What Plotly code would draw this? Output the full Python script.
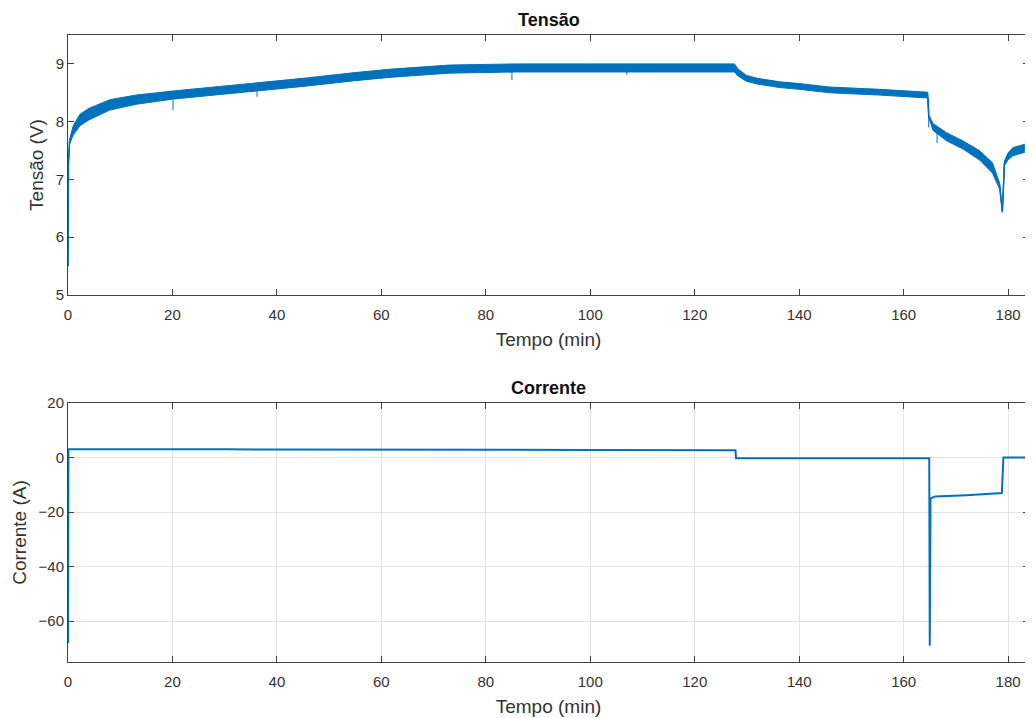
import plotly.graph_objects as go

# ---------------- data ----------------
# Voltage band (noisy signal drawn as envelope) : time (min), centre and half-spread (V)
t_v = [0.0, 0.05, 0.1, 0.3, 1.0, 2.3, 4.0, 8.0, 13.0, 20.0, 28.0, 36.0, 45.0, 55.0,
       62.0, 73.0, 86.0, 100.0, 112.0, 127.6, 128.3, 129.9, 132.0, 136.3, 140.0,
       145.8, 155.4, 164.6, 164.8, 165.6, 168.2, 171.3, 174.5, 177.0, 178.4, 178.9,
       179.3, 180.0, 180.9, 183.2]
v_mid = [5.50, 6.80, 7.30, 7.65, 7.85, 8.03, 8.13, 8.29, 8.38, 8.46, 8.53, 8.60, 8.68, 8.78,
         8.84, 8.91, 8.93, 8.93, 8.93, 8.93, 8.85, 8.75, 8.70, 8.64, 8.61,
         8.55, 8.51, 8.46, 8.10, 7.91, 7.74, 7.60, 7.42, 7.20, 6.88, 6.44,
         7.28, 7.40, 7.48, 7.54]
v_spread = [0.00, 0.00, 0.01, 0.04, 0.08, 0.10, 0.10, 0.09, 0.08, 0.07, 0.07, 0.07, 0.07, 0.07,
            0.07, 0.07, 0.07, 0.07, 0.07, 0.07, 0.06, 0.05, 0.05, 0.05, 0.05,
            0.05, 0.05, 0.05, 0.02, 0.06, 0.07, 0.07, 0.08, 0.09, 0.05, 0.01,
            0.04, 0.06, 0.07, 0.07]
v_upper = [m + s for m, s in zip(v_mid, v_spread)]
v_lower = [m - s for m, s in zip(v_mid, v_spread)]

# isolated downward spikes in voltage: time, top, bottom
spike_t = [20.1, 36.2, 85.0, 107.0, 164.8, 166.4]
spike_top = [8.45, 8.58, 8.90, 8.92, 8.40, 7.85]
spike_bot = [8.20, 8.43, 8.72, 8.81, 7.90, 7.63]

# Current (A)
t_i = [0.0, 0.02, 0.08, 30.0, 60.0, 100.0, 127.8, 127.9, 164.9, 165.0, 165.15, 166.0,
       172.0, 178.8, 179.1, 183.3]
i_val = [0.0, -68.0, 3.0, 3.0, 2.8, 2.8, 2.7, -0.3, -0.3, -69.0, -15.0, -14.3,
         -13.8, -13.0, 0.0, 0.0]

x_ticks = [0, 20, 40, 60, 80, 100, 120, 140, 160, 180]
v_ticks = [5, 6, 7, 8, 9]
i_ticks = [-60, -40, -20, 0, 20]

# ---------------- figure ----------------
BLUE = "#0072BD"
AX = "#404040"
TXT = "#333333"
FONT = "Liberation Sans"

fig = go.Figure()

fig.add_trace(go.Scatter(x=t_v, y=v_lower, mode="lines", line=dict(color=BLUE, width=1),
                         xaxis="x", yaxis="y", showlegend=False, hoverinfo="skip"))
fig.add_trace(go.Scatter(x=t_v, y=v_upper, mode="lines", line=dict(color=BLUE, width=1),
                         fill="tonexty", fillcolor=BLUE,
                         xaxis="x", yaxis="y", showlegend=False, hoverinfo="skip"))
fig.add_trace(go.Scatter(x=t_v, y=v_mid, mode="lines", line=dict(color=BLUE, width=1.5),
                         xaxis="x", yaxis="y", showlegend=False))

sx, sy = [], []
for t, a, b in zip(spike_t, spike_top, spike_bot):
    sx += [t, t, None]
    sy += [a, b, None]
fig.add_trace(go.Scatter(x=sx, y=sy, mode="lines", line=dict(color=BLUE, width=1),
                         xaxis="x", yaxis="y", showlegend=False, hoverinfo="skip"))

fig.add_trace(go.Scatter(x=t_i, y=i_val, mode="lines", line=dict(color=BLUE, width=2),
                         xaxis="x2", yaxis="y2", showlegend=False))

axis_common = dict(
    showline=True, linecolor=AX, linewidth=1, mirror="ticks",
    ticks="inside", ticklen=6, tickcolor=AX, tickwidth=1,
    tickfont=dict(family=FONT, size=15, color=TXT),
    zeroline=False,
)
xlab = dict(text="Tempo (min)", font=dict(family=FONT, size=19, color=TXT), standoff=10)

fig.update_layout(
    width=1025, height=710,
    margin=dict(l=60, r=4, t=27, b=56),
    paper_bgcolor="white", plot_bgcolor="white",
    font=dict(family=FONT, color=TXT),
    xaxis=dict(domain=[0, 1], anchor="y", range=[0, 184], tickvals=x_ticks,
               showgrid=False, ticklabelstandoff=6, title=xlab, **axis_common),
    yaxis=dict(domain=[0.5853, 1], anchor="x", range=[5, 9.5], tickvals=v_ticks,
               showgrid=False,
               title=dict(text="Tensão (V)", font=dict(family=FONT, size=19, color=TXT), standoff=6),
               **axis_common),
    xaxis2=dict(domain=[0, 1], anchor="y2", range=[0, 184], tickvals=x_ticks,
                showgrid=True, gridcolor="#e3e3e3", gridwidth=1,
                ticklabelstandoff=6, title=xlab, **axis_common),
    yaxis2=dict(domain=[0, 0.4131], anchor="x2", range=[-75, 20], tickvals=i_ticks,
                showgrid=True, gridcolor="#e3e3e3", gridwidth=1,
                title=dict(text="Corrente (A)", font=dict(family=FONT, size=19, color=TXT), standoff=6),
                **axis_common),
    annotations=[
        dict(text="<b>Tensão</b>", x=0.5, y=1.0239, xref="paper", yref="paper",
             showarrow=False, xanchor="center", yanchor="middle",
             font=dict(family=FONT, size=18, color="#111111")),
        dict(text="<b>Corrente</b>", x=0.5, y=0.437, xref="paper", yref="paper",
             showarrow=False, xanchor="center", yanchor="middle",
             font=dict(family=FONT, size=18, color="#111111")),
    ],
)

fig.write_html("out.html")
